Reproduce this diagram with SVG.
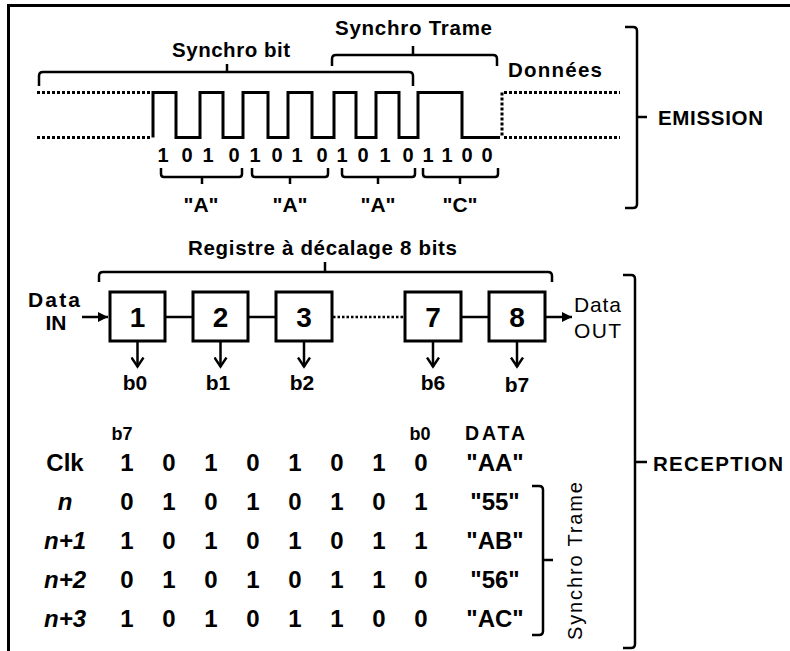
<svg xmlns="http://www.w3.org/2000/svg" width="790" height="651" viewBox="0 0 790 651">
  <style>
    text { font-family: "Liberation Sans", Arial, sans-serif; fill: #000; }
    .lbl { font-size: 20.5px; font-weight: bold; }
    .bit { font-size: 20px; font-weight: bold; text-anchor: middle; }
    .chr { font-size: 21px; font-weight: bold; text-anchor: middle; }
    .out { font-size: 21px; font-weight: bold; text-anchor: middle; }
    .num { font-size: 28px; font-weight: bold; text-anchor: middle; }
    .tab { font-size: 24px; font-weight: bold; text-anchor: middle; }
    .hdr { font-size: 18px; font-weight: bold; text-anchor: middle; }
    .hdr-wide { font-size: 19.5px; font-weight: bold; text-anchor: middle; }
    .row { font-size: 24px; font-weight: bold; font-style: italic; text-anchor: middle; }
    .mid { text-anchor: middle; }
    .brace { fill: none; stroke: #000; stroke-width: 2.5; }
    .wave { fill: none; stroke: #000; stroke-width: 3; stroke-linejoin: miter; }
    .dots { fill: none; stroke: #000; stroke-width: 3; stroke-dasharray: 3 2; }
    .box { fill: #fff; stroke: #000; stroke-width: 3; }
    .wire { fill: none; stroke: #000; stroke-width: 2.5; }
  </style>
  <defs>
    <marker id="tri" viewBox="0 0 10 10" refX="10" refY="5" markerWidth="10" markerHeight="10" markerUnits="userSpaceOnUse" orient="auto">
      <path d="M0,0 L10,5 L0,10 z" fill="#000"/>
    </marker>
    <marker id="vee" viewBox="0 0 12 14" refX="10.5" refY="7" markerWidth="12" markerHeight="14" markerUnits="userSpaceOnUse" orient="auto">
      <path d="M1,1 L10,7 L1,13" fill="none" stroke="#000" stroke-width="2.4"/>
    </marker>
  </defs>

  <!-- outer frame (top and left edges) -->
  <g id="frame">
    <path d="M8.5,651 V5.5 H790" fill="none" stroke="#000" stroke-width="3"/>
  </g>

  <!-- transmitted signal -->
  <g id="signal">
    <path class="dots" d="M37,92.5 H151 M37,137.5 H151"/>
    <path class="wave" d="M153,137.5 V92.5 H176 V137.5 H200 V92.5 H223 V137.5 H243 V92.5 H268 V137.5 H288 V92.5 H312 V137.5 H334 V92.5 H356 V137.5 H376 V92.5 H399 V137.5 H418 V92.5 H462 V137.5 H500"/>
    <path class="dots" d="M502,92.5 V137.5 M504,92.5 H620 M504,137.5 H620"/>
  </g>

  <g id="bits">
    <text class="bit" x="163" y="162">1</text>
    <text class="bit" x="187" y="162">0</text>
    <text class="bit" x="208" y="162">1</text>
    <text class="bit" x="234" y="162">0</text>
    <text class="bit" x="255" y="162">1</text>
    <text class="bit" x="277" y="162">0</text>
    <text class="bit" x="297" y="162">1</text>
    <text class="bit" x="322" y="162">0</text>
    <text class="bit" x="342" y="162">1</text>
    <text class="bit" x="363" y="162">0</text>
    <text class="bit" x="385" y="162">1</text>
    <text class="bit" x="408" y="162">0</text>
    <text class="bit" x="428" y="162">1</text>
    <text class="bit" x="447" y="162">1</text>
    <text class="bit" x="467" y="162">0</text>
    <text class="bit" x="487" y="162">0</text>
  </g>

  <!-- nibble braces and their characters -->
  <g id="nibbles">
    <path class="brace" d="M161,168 V174 Q161,177 164,177 H239 Q242,177 242,174 V168 M202,177 V184"/>
    <path class="brace" d="M252,168 V174 Q252,177 255,177 H325 Q328,177 328,174 V168 M290,177 V184"/>
    <path class="brace" d="M342,168 V174 Q342,177 345,177 H412 Q415,177 415,174 V168 M378,177 V184"/>
    <path class="brace" d="M423,168 V174 Q423,177 426,177 H495 Q498,177 498,174 V168 M460,177 V184"/>
    <text class="chr" x="201" y="212">"A"</text>
    <text class="chr" x="290" y="212">"A"</text>
    <text class="chr" x="378" y="212">"A"</text>
    <text class="chr" x="460" y="212">"C"</text>
  </g>

  <g id="synchro-bit">
    <path class="brace" d="M39,86 V76 Q39,72 43,72 H409 Q413,72 413,76 V86 M227,72 V64"/>
    <text class="lbl mid" x="231" y="57" textLength="118" lengthAdjust="spacing">Synchro bit</text>
  </g>

  <g id="synchro-trame">
    <path class="brace" d="M332,66 V59 Q332,55 336,55 H493 Q497,55 497,59 V66 M413,55 V46"/>
    <text class="lbl mid" x="413.5" y="35" textLength="157" lengthAdjust="spacing">Synchro Trame</text>
  </g>

  <g id="donnees">
    <text class="lbl" x="508" y="77" textLength="94" lengthAdjust="spacing">Données</text>
  </g>

  <g id="emission">
    <path class="brace" d="M625,27 H633 Q637,27 637,31 V204 Q637,208 633,208 H625 M637,117 H647"/>
    <text class="lbl" x="658" y="125" textLength="105" lengthAdjust="spacing">EMISSION</text>
  </g>

  <!-- shift register -->
  <g id="register-label">
    <path class="brace" d="M99,282 V276 Q99,272 103,272 H548 Q552,272 552,276 V282 M325,272 V262"/>
    <text class="lbl" x="188" y="255" textLength="269" lengthAdjust="spacing">Registre à décalage 8 bits</text>
  </g>

  <g id="data-in">
    <text class="out" x="54" y="307" textLength="52" lengthAdjust="spacing">Data</text>
    <text class="out" x="56" y="330">IN</text>
  </g>

  <g id="data-out">
    <text x="574" y="312" font-size="21" textLength="47" lengthAdjust="spacing">Data</text>
    <text x="574" y="338" font-size="21" textLength="47" lengthAdjust="spacing">OUT</text>
  </g>

  <g id="connectors">
    <path class="wire" d="M82,317 H108" marker-end="url(#tri)"/>
    <path class="wire" d="M165,317 H193"/>
    <path class="wire" d="M248,317 H276"/>
    <path class="wire" d="M333,317 H405" stroke-dasharray="2.5 2"/>
    <path class="wire" d="M461,317 H489"/>
    <path class="wire" d="M545,317 H572" marker-end="url(#tri)"/>
    <path class="wire" d="M137.5,342 V367" marker-end="url(#vee)"/>
    <path class="wire" d="M220.5,342 V367" marker-end="url(#vee)"/>
    <path class="wire" d="M304,342 V367" marker-end="url(#vee)"/>
    <path class="wire" d="M433,342 V367" marker-end="url(#vee)"/>
    <path class="wire" d="M517,342 V367" marker-end="url(#vee)"/>
  </g>

  <g id="stage1"><rect class="box" x="110" y="292" width="55" height="49"/><text class="num" x="137.5" y="327">1</text><text class="out" x="135" y="390">b0</text></g>
  <g id="stage2"><rect class="box" x="193" y="292" width="55" height="49"/><text class="num" x="220.5" y="327">2</text><text class="out" x="218" y="390">b1</text></g>
  <g id="stage3"><rect class="box" x="276" y="292" width="56" height="49"/><text class="num" x="304" y="327">3</text><text class="out" x="302" y="390">b2</text></g>
  <g id="stage7"><rect class="box" x="405" y="292" width="56" height="49"/><text class="num" x="433" y="327">7</text><text class="out" x="433" y="390">b6</text></g>
  <g id="stage8"><rect class="box" x="489" y="292" width="56" height="49"/><text class="num" x="517" y="327">8</text><text class="out" x="517" y="392">b7</text></g>

  <!-- register contents per clock -->
  <g id="table">
    <text class="hdr" x="122" y="440">b7</text>
    <text class="hdr" x="420" y="440">b0</text>
    <text class="hdr-wide" x="495" y="440" textLength="60" lengthAdjust="spacing">DATA</text>

    <text class="tab" x="65" y="471">Clk</text>
    <text class="row" x="65" y="510">n</text>
    <text class="row" x="65" y="549">n+1</text>
    <text class="row" x="65" y="588">n+2</text>
    <text class="row" x="65" y="627">n+3</text>

    <g>
      <text class="tab" x="127" y="471">1</text><text class="tab" x="169" y="471">0</text><text class="tab" x="211" y="471">1</text><text class="tab" x="253" y="471">0</text><text class="tab" x="295" y="471">1</text><text class="tab" x="337" y="471">0</text><text class="tab" x="379" y="471">1</text><text class="tab" x="421" y="471">0</text>
      <text class="tab" x="127" y="510">0</text><text class="tab" x="169" y="510">1</text><text class="tab" x="211" y="510">0</text><text class="tab" x="253" y="510">1</text><text class="tab" x="295" y="510">0</text><text class="tab" x="337" y="510">1</text><text class="tab" x="379" y="510">0</text><text class="tab" x="421" y="510">1</text>
      <text class="tab" x="127" y="549">1</text><text class="tab" x="169" y="549">0</text><text class="tab" x="211" y="549">1</text><text class="tab" x="253" y="549">0</text><text class="tab" x="295" y="549">1</text><text class="tab" x="337" y="549">0</text><text class="tab" x="379" y="549">1</text><text class="tab" x="421" y="549">1</text>
      <text class="tab" x="127" y="588">0</text><text class="tab" x="169" y="588">1</text><text class="tab" x="211" y="588">0</text><text class="tab" x="253" y="588">1</text><text class="tab" x="295" y="588">0</text><text class="tab" x="337" y="588">1</text><text class="tab" x="379" y="588">1</text><text class="tab" x="421" y="588">0</text>
      <text class="tab" x="127" y="627">1</text><text class="tab" x="169" y="627">0</text><text class="tab" x="211" y="627">1</text><text class="tab" x="253" y="627">0</text><text class="tab" x="295" y="627">1</text><text class="tab" x="337" y="627">1</text><text class="tab" x="379" y="627">0</text><text class="tab" x="421" y="627">0</text>
    </g>

    <text class="tab" x="495" y="471">"AA"</text>
    <text class="tab" x="495" y="510">"55"</text>
    <text class="tab" x="495" y="549">"AB"</text>
    <text class="tab" x="495" y="588">"56"</text>
    <text class="tab" x="495" y="627">"AC"</text>
  </g>

  <g id="synchro-trame-rx">
    <path class="brace" d="M532,486 H539 Q543,486 543,490 V631 Q543,635 539,635 H532 M543,560 H553"/>
    <text transform="translate(582,561) rotate(-90)" class="mid" font-size="20" textLength="158" lengthAdjust="spacing">Synchro Trame</text>
  </g>

  <g id="reception">
    <path class="brace" d="M623,275 H631 Q635,275 635,279 V644 Q635,648 631,648 H623 M635,462 H647"/>
    <text class="lbl" x="653" y="471" textLength="130" lengthAdjust="spacing">RECEPTION</text>
  </g>
</svg>
